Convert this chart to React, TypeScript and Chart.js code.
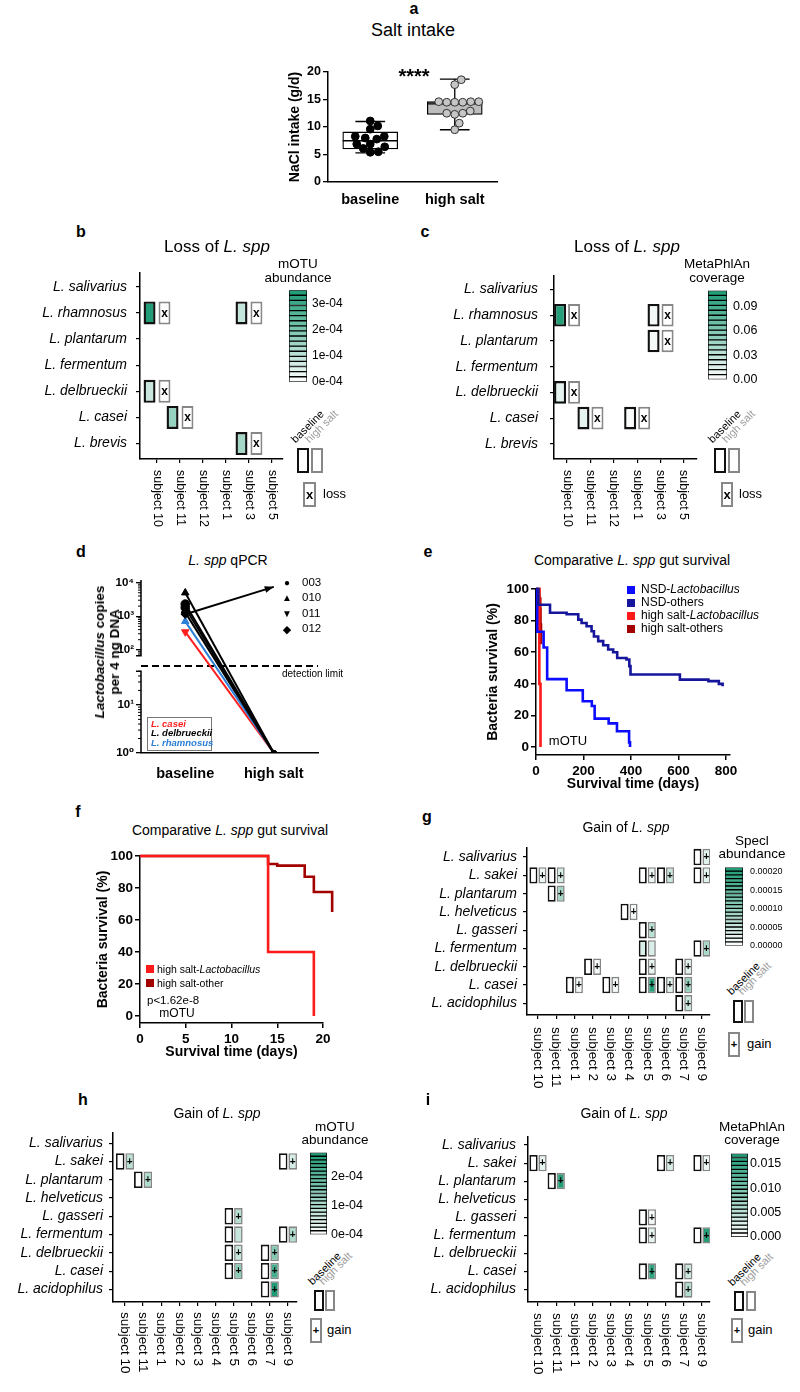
import React, { useEffect, useRef } from "react";
import { Chart, registerables } from "chart.js";

Chart.register(...registerables);

const FONT = '"Liberation Sans", Arial, Helvetica, "DejaVu Sans", sans-serif';
Chart.defaults.font.family = FONT;
Chart.defaults.color = "#000";

/* ====================== DATA ====================== */
// a — salt intake
const SALT_GROUPS = ["baseline", "high salt"];
const SALT_BASELINE = [11.1, 10.2, 9.6, 8.3, 8.3, 8.0, 7.8, 6.9, 6.9, 6.4, 6.1, 5.5, 5.4];
const SALT_HIGH = [18.6, 17.7, 14.6, 14.6, 14.5, 14.5, 14.5, 14.6, 12.9, 12.5, 12.5, 12.3, 10.7, 9.5];
const SALT_WHISKER_LOW = [5.3, 9.5];
const SALT_Q1 = [6.0, 12.3];
const SALT_MEDIAN = [7.5, 14.2];
const SALT_Q3 = [9.1, 14.6];
const SALT_WHISKER_HIGH = [11.0, 18.7];
const SALT_TICKS = [0, 5, 10, 15, 20];

// b, c — loss of L. spp   [species, subject, baseline, high salt, marked]
type Cell = [string, string, number, number, number];
const LOSS_SPECIES = ["L. salivarius", "L. rhamnosus", "L. plantarum", "L. fermentum", "L. delbrueckii", "L. casei", "L. brevis"];
const LOSS_SUBJECTS = ["subject 10", "subject 11", "subject 12", "subject 1", "subject 3", "subject 5"];
const B_CELLS: Cell[] = [
  ["L. rhamnosus", "subject 10", 3.4e-4, 0, 1],
  ["L. rhamnosus", "subject 3", 0.9e-4, 0, 1],
  ["L. delbrueckii", "subject 10", 0.85e-4, 0, 1],
  ["L. casei", "subject 11", 1.6e-4, 0, 1],
  ["L. brevis", "subject 3", 1.4e-4, 0, 1],
];
const B_SCALE_MAX = 3.5e-4;
const B_SCALE_TICKS = [0, 1e-4, 2e-4, 3e-4];
const B_SCALE_LABELS = ["0e-04", "1e-04", "2e-04", "3e-04"];
const C_CELLS: Cell[] = [
  ["L. rhamnosus", "subject 10", 0.105, 0, 1],
  ["L. rhamnosus", "subject 3", 0.006, 0, 1],
  ["L. plantarum", "subject 3", 0.005, 0, 1],
  ["L. delbrueckii", "subject 10", 0.013, 0, 1],
  ["L. casei", "subject 11", 0.012, 0, 1],
  ["L. casei", "subject 1", 0.003, 0, 1],
];
const C_SCALE_MAX = 0.11;
const C_SCALE_TICKS = [0, 0.03, 0.06, 0.09];
const C_SCALE_LABELS = ["0.00", "0.03", "0.06", "0.09"];

// g, h, i — gain of L. spp
const GAIN_SPECIES = ["L. salivarius", "L. sakei", "L. plantarum", "L. helveticus", "L. gasseri", "L. fermentum", "L. delbrueckii", "L. casei", "L. acidophilus"];
const GAIN_SUBJECTS = ["subject 10", "subject 11", "subject 1", "subject 2", "subject 3", "subject 4", "subject 5", "subject 6", "subject 7", "subject 9"];
const G_CELLS: Cell[] = [
  ["L. salivarius", "subject 9", 0, 0.000028, 1],
  ["L. sakei", "subject 10", 0, 0.000018, 1],
  ["L. sakei", "subject 11", 0, 0.000037, 1],
  ["L. sakei", "subject 5", 0, 0.000018, 1],
  ["L. sakei", "subject 6", 0, 0.00005, 1],
  ["L. sakei", "subject 9", 0, 0.000028, 1],
  ["L. plantarum", "subject 11", 0, 0.000085, 1],
  ["L. helveticus", "subject 4", 0, 0.000008, 1],
  ["L. gasseri", "subject 5", 0, 0.000064, 1],
  ["L. fermentum", "subject 5", 0.000035, 0.000035, 0],
  ["L. fermentum", "subject 9", 0, 0.00008, 1],
  ["L. delbrueckii", "subject 2", 0, 0.000012, 1],
  ["L. delbrueckii", "subject 5", 0, 0.00002, 1],
  ["L. delbrueckii", "subject 7", 0, 0.000028, 1],
  ["L. casei", "subject 1", 0, 0.000012, 1],
  ["L. casei", "subject 3", 0, 0.000012, 1],
  ["L. casei", "subject 5", 0, 0.0002, 1],
  ["L. casei", "subject 6", 0, 0.000028, 1],
  ["L. casei", "subject 7", 0, 0.0001, 1],
  ["L. acidophilus", "subject 7", 0, 0.00005, 1],
];
const G_SCALE_MAX = 0.000212;
const G_SCALE_TICKS = [0, 0.00005, 0.0001, 0.00015, 0.0002];
const G_SCALE_LABELS = ["0.00000", "0.00005", "0.00010", "0.00015", "0.00020"];
const H_CELLS: Cell[] = [
  ["L. sakei", "subject 10", 0, 0.85e-4, 1],
  ["L. sakei", "subject 9", 0, 0.5e-4, 1],
  ["L. plantarum", "subject 11", 0, 1.0e-4, 1],
  ["L. gasseri", "subject 5", 0, 0.9e-4, 1],
  ["L. fermentum", "subject 5", 0, 0.7e-4, 0],
  ["L. fermentum", "subject 9", 0, 1.0e-4, 1],
  ["L. delbrueckii", "subject 5", 0, 0.7e-4, 1],
  ["L. delbrueckii", "subject 7", 0, 1.55e-4, 1],
  ["L. casei", "subject 5", 0, 1.45e-4, 1],
  ["L. casei", "subject 7", 0, 2.3e-4, 1],
  ["L. acidophilus", "subject 7", 0, 2.8e-4, 1],
];
const H_SCALE_MAX = 2.85e-4;
const H_SCALE_TICKS = [0, 1e-4, 2e-4];
const H_SCALE_LABELS = ["0e-04", "1e-04", "2e-04"];
const I_CELLS: Cell[] = [
  ["L. sakei", "subject 10", 0, 0.0019, 1],
  ["L. sakei", "subject 6", 0, 0.003, 1],
  ["L. sakei", "subject 9", 0, 0.0015, 1],
  ["L. plantarum", "subject 11", 0, 0.0165, 1],
  ["L. gasseri", "subject 5", 0, 0.001, 1],
  ["L. fermentum", "subject 5", 0, 0.0019, 1],
  ["L. fermentum", "subject 9", 0, 0.0165, 1],
  ["L. casei", "subject 5", 0, 0.0155, 1],
  ["L. casei", "subject 7", 0, 0.004, 1],
  ["L. acidophilus", "subject 7", 0, 0.006, 1],
];
const I_SCALE_MAX = 0.0171;
const I_SCALE_TICKS = [0, 0.005, 0.01, 0.015];
const I_SCALE_LABELS = ["0.000", "0.005", "0.010", "0.015"];

// d — qPCR
const QPCR_GROUPS = ["baseline", "high salt"];
const QPCR_SUBJECTS = ["003", "010", "011", "012"];
const QPCR_MARKERS = ["circle", "triangle", "triangle", "rectRot"];
const QPCR_MARKER_ROT = [0, 0, 180, 0];
const QPCR_MARKER_GLYPHS = ["●", "▲", "▼", "◆"];
const QPCR_SPECIES = ["L. casei", "L. delbrueckii", "L. rhamnosus"];
const QPCR_SPECIES_COLORS = ["#ff1f1f", "#000000", "#2b7fd6"];
const QPCR_SERIES_SUBJECT = ["010", "003", "003", "012", "010", "011", "012"];
const QPCR_SERIES_SPECIES = ["L. delbrueckii", "L. delbrueckii", "L. delbrueckii", "L. delbrueckii", "L. rhamnosus", "L. casei", "L. delbrueckii"];
const QPCR_BASELINE = [5000, 2300, 1800, 1300, 700, 340, 1150];
const QPCR_HIGH_SALT = [1, 1, 1, 1, 1, 1, 7500];
const QPCR_DETECTION_LIMIT = 55;
const QPCR_TICKS = [1, 10, 100, 1000, 10000];
const QPCR_TICK_LABELS = ["10⁰", "10¹", "10²", "10³", "10⁴"];
const QPCR_AXIS_TOP = 12000;
const QPCR_BREAK_LOW = 50;
const QPCR_BREAK_HIGH = 66;

// e, f — survival
const NSD_OTHERS_DAYS = [0, 10, 59, 129, 178, 192, 213, 234, 244, 262, 283, 304, 325, 342, 381, 393, 398, 606, 726, 770, 786];
const NSD_OTHERS_SURV = [100, 90, 85, 84, 80.6, 78.5, 76.4, 73.3, 70, 67, 64.4, 61.7, 60, 56.4, 55.4, 51.2, 45.9, 42.7, 41.7, 40, 38.5];
const NSD_LACTO_DAYS = [0, 5, 32, 47, 129, 197, 235, 247, 306, 341, 392, 396];
const NSD_LACTO_SURV = [100, 73, 63, 43, 36, 29, 26, 18, 15, 10, 3, 0];
const HS_LACTO_DAYS = [0, 14, 19];
const HS_LACTO_SURV = [100, 40, 0];
const HS_OTHERS_DAYS = [0, 14, 15, 18, 19, 21];
const HS_OTHERS_SURV = [100, 95, 94, 87, 77.5, 65];
const SURV_TICKS = [0, 20, 40, 60, 80, 100];
const E_DAY_TICKS = [0, 200, 400, 600, 800];
const F_DAY_TICKS = [0, 5, 10, 15, 20];

const NAVY = "#16169c";
const BLUE = "#0c0cff";
const RED = "#ff1a1a";
const DARKRED = "#a30000";

/* ====================== LAYOUT ====================== */
type Rect = { x: number; y: number; w: number; h: number };
type Area = { l: number; t: number; r: number; b: number };

const A_CANVAS: Rect = { x: 270, y: 60, w: 240, h: 150 };
const A_AREA: Area = { l: 328, t: 72, r: 497, b: 182 };
const D_CANVAS: Rect = { x: 105, y: 570, w: 225, h: 220 };
const D_AREA: Area = { l: 141, t: 580, r: 318, b: 753 };
const E_CANVAS: Rect = { x: 470, y: 575, w: 280, h: 218 };
const E_AREA: Area = { l: 536, t: 589, r: 730, b: 755 };
const F_CANVAS: Rect = { x: 75, y: 845, w: 265, h: 216 };
const F_AREA: Area = { l: 140, t: 856, r: 323, b: 1023 };

const HEAT_B = { canvas: { x: 40, y: 255, w: 250, h: 280 }, area: { l: 140, t: 265, r: 283, b: 459 }, xr: [-0.74, 5.48], yr: [-0.55, 6.59], catPct: 1.3, barPct: 0.8, half: 0.44, rowPad: 9, subjFont: 12.5, subjGap: 11, mark: "x", markFont: "bold 12px", bw: [2.4, 2] };
const HEAT_C = { canvas: { x: 440, y: 255, w: 265, h: 280 }, area: { l: 554, t: 265, r: 697, b: 459 }, xr: [-0.56, 5.56], yr: [-0.55, 6.59], catPct: 1.2, barPct: 0.86, half: 0.44, rowPad: 12, subjFont: 12.5, subjGap: 11, mark: "x", markFont: "bold 12px", bw: [2.4, 2] };
const HEAT_G = { canvas: { x: 400, y: 833, w: 320, h: 262 }, area: { l: 527, t: 843, r: 710, b: 1015 }, xr: [-0.6, 9.44], yr: [-0.53, 8.64], catPct: 0.99, barPct: 0.89, half: 0.45, rowPad: 6, subjFont: 13.5, subjGap: 12, mark: "+", markFont: "bold 10px", bw: [1.8, 1.6] };
const HEAT_H = { canvas: { x: 0, y: 1118, w: 305, h: 267 }, area: { l: 113, t: 1128, r: 297, b: 1302 }, xr: [-0.66, 9.5], yr: [-0.59, 8.69], catPct: 1.05, barPct: 0.9, half: 0.45, rowPad: 6, subjFont: 13.5, subjGap: 10, mark: "+", markFont: "bold 10px", bw: [1.8, 1.6] };
const HEAT_I = { canvas: { x: 400, y: 1120, w: 320, h: 265 }, area: { l: 528, t: 1130, r: 710, b: 1302 }, xr: [-0.55, 9.44], yr: [-0.48, 8.69], catPct: 0.99, barPct: 0.92, half: 0.45, rowPad: 8, subjFont: 13.5, subjGap: 11, mark: "+", markFont: "bold 10px", bw: [1.8, 1.6] };

const CB_B = { canvas: { x: 284, y: 278, w: 66, h: 116 }, area: { l: 289, t: 286, r: 307, b: 384 }, bands: 18, font: 12, pad: 5 };
const CB_C = { canvas: { x: 703, y: 277, w: 72, h: 116 }, area: { l: 708, t: 285, r: 727, b: 383 }, bands: 18, font: 12.5, pad: 6 };
const CB_G = { canvas: { x: 720, y: 855, w: 80, h: 103 }, area: { l: 725, t: 863, r: 743, b: 948 }, bands: 21, font: 9, pad: 7 };
const CB_H = { canvas: { x: 305, y: 1141, w: 75, h: 105 }, area: { l: 310, t: 1149, r: 327, b: 1236 }, bands: 22, font: 12.5, pad: 4 };
const CB_I = { canvas: { x: 726, y: 1144, w: 74, h: 103 }, area: { l: 731, t: 1152, r: 748, b: 1237 }, bands: 21, font: 12.5, pad: 2 };

/* ====================== HELPERS ====================== */
const TEAL = [27, 154, 116];
function teal(f: number) {
  const v = Math.max(0, Math.min(1, f));
  const c = TEAL.map((t) => Math.round(255 + (t - 255) * v));
  return `rgb(${c[0]},${c[1]},${c[2]})`;
}

function frame(c: Rect, a: Area, titleX?: number, titleLH = 16.8) {
  const padLeft = titleX === undefined ? 0 : titleX - c.x - titleLH / 2;
  return {
    padding: { left: padLeft, top: a.t - c.y, right: c.x + c.w - a.r, bottom: 0 },
    yWidth: a.l - c.x - padLeft,
    xHeight: c.y + c.h - a.b,
  };
}

const tickGrid = (len: number, w = 1.3) => ({ display: true, drawOnChartArea: false, drawTicks: true, tickLength: len, color: "#000", lineWidth: w, offset: false });
const noGrid = { display: false, drawTicks: false, offset: false };
const axisBorder = (w = 1.5) => ({ display: true, color: "#000", width: w });

function baseOptions(padding: any) {
  return {
    responsive: false,
    maintainAspectRatio: false,
    animation: false,
    events: [],
    devicePixelRatio: 1,
    layout: { padding },
    plugins: { legend: { display: false }, tooltip: { enabled: false }, title: { display: false } },
  };
}

function swarm(values: number[], center: number, r: number, xPx: number, yPx: number) {
  const placed: { x: number; y: number }[] = [];
  const order = values.map((_, i) => i).sort((a, b) => values[a] - values[b]);
  const out: number[] = new Array(values.length).fill(center);
  for (const i of order) {
    const yp = values[i] * yPx;
    let off = 0;
    for (let n = 0; n < 200; n++) {
      const cand = n === 0 ? 0 : Math.ceil(n / 2) * (n % 2 ? 1 : -1) * 0.5;
      if (placed.every((p) => Math.hypot(p.x - cand, p.y - yp) >= 2 * r)) {
        off = cand;
        break;
      }
    }
    placed.push({ x: off, y: yp });
    out[i] = center + off / xPx;
  }
  return out;
}

function qpcrAxis(v: number) {
  const L = Math.log10(v);
  const lo = Math.log10(QPCR_BREAK_LOW);
  const hi = Math.log10(QPCR_BREAK_HIGH);
  const seg1 = (l: number) => l * 48;
  const seg2 = (l: number) => 103 + (l - 2) * 33.5;
  if (L <= lo) return seg1(L);
  if (L >= hi) return seg2(L);
  return seg1(lo) + ((L - lo) / (hi - lo)) * (seg2(hi) - seg1(lo));
}

/* ====================== CONFIGS ====================== */
function saltConfig() {
  const fr = frame(A_CANVAS, A_AREA, 295);
  const xPx = (A_AREA.r - A_AREA.l) / 2;
  const yPx = (A_AREA.b - A_AREA.t) / 20;
  const bx = swarm(SALT_BASELINE, 0, 3.9, xPx, yPx);
  const hx = swarm(SALT_HIGH, 1, 3.9, xPx, yPx);
  const boxPlugin = {
    id: "boxWhiskers",
    beforeDatasetsDraw(chart: any) {
      const { ctx, scales } = chart;
      const meta = chart.getDatasetMeta(0);
      ctx.save();
      ctx.strokeStyle = "#000";
      ctx.lineWidth = 1.3;
      SALT_GROUPS.forEach((_, i) => {
        const px = scales.x.getPixelForValue(i);
        const cap = meta.data[i].width * 0.27;
        const lo = scales.y.getPixelForValue(SALT_WHISKER_LOW[i]);
        const hi = scales.y.getPixelForValue(SALT_WHISKER_HIGH[i]);
        ctx.beginPath();
        ctx.moveTo(px, lo);
        ctx.lineTo(px, hi);
        ctx.moveTo(px - cap, lo);
        ctx.lineTo(px + cap, lo);
        ctx.moveTo(px - cap, hi);
        ctx.lineTo(px + cap, hi);
        ctx.stroke();
      });
      ctx.restore();
    },
    afterDatasetDraw(chart: any, args: any) {
      if (args.index !== 0) return;
      const { ctx, scales } = chart;
      const meta = chart.getDatasetMeta(0);
      ctx.save();
      ctx.strokeStyle = "#000";
      ctx.lineWidth = 1.3;
      SALT_GROUPS.forEach((_, i) => {
        const el = meta.data[i];
        const py = scales.y.getPixelForValue(SALT_MEDIAN[i]);
        ctx.beginPath();
        ctx.moveTo(el.x - el.width / 2, py);
        ctx.lineTo(el.x + el.width / 2, py);
        ctx.stroke();
      });
      ctx.restore();
    },
  };
  return {
    type: "bar",
    data: {
      datasets: [
        {
          type: "bar",
          data: SALT_GROUPS.map((_, i) => ({ x: i, y: [SALT_Q1[i], SALT_Q3[i]] })),
          backgroundColor: ["#ffffff", "#bdbdbd"],
          borderColor: "#000",
          borderWidth: 1.3,
          borderSkipped: false,
          barThickness: 55,
          order: 3,
        },
        {
          type: "scatter",
          data: SALT_BASELINE.map((v, i) => ({ x: bx[i], y: v })),
          pointRadius: 3.9,
          pointBackgroundColor: "#000",
          pointBorderColor: "#000",
          pointBorderWidth: 1,
          order: 1,
        },
        {
          type: "scatter",
          data: SALT_HIGH.map((v, i) => ({ x: hx[i], y: v })),
          pointRadius: 3.9,
          pointBackgroundColor: "#c6c6c6",
          pointBorderColor: "#333",
          pointBorderWidth: 1,
          order: 1,
        },
      ],
    },
    options: {
      ...baseOptions(fr.padding),
      scales: {
        x: {
          type: "linear", min: -0.5, max: 1.5, offset: false,
          afterBuildTicks: (s: any) => { s.ticks = SALT_GROUPS.map((_, i) => ({ value: i })); },
          ticks: { callback: (_v: any, i: number) => SALT_GROUPS[i], font: { size: 14.5, weight: "bold" }, padding: 9, maxRotation: 0, minRotation: 0, autoSkip: false },
          grid: noGrid, border: axisBorder(1.5),
          afterFit: (s: any) => { s.height = fr.xHeight; },
        },
        y: {
          type: "linear", min: 0, max: 20, stacked: false,
          afterBuildTicks: (s: any) => { s.ticks = SALT_TICKS.map((v) => ({ value: v })); },
          ticks: { font: { size: 12.5, weight: "bold" }, padding: 2, autoSkip: false },
          grid: tickGrid(5), border: axisBorder(1.5),
          title: { display: true, text: "NaCl intake (g/d)", font: { size: 14, weight: "bold" }, padding: 0 },
          afterFit: (s: any) => { s.width = fr.yWidth; },
        },
      },
    },
    plugins: [boxPlugin],
  };
}

function heatmapConfig(L: any, species: string[], subjects: string[], cells: Cell[], max: number) {
  const fr = frame(L.canvas, L.area);
  const pos = (c: Cell) => {
    const r = species.indexOf(c[0]);
    return { x: subjects.indexOf(c[1]), y: [r - L.half, r + L.half] };
  };
  const plugin = {
    id: "heatExtras",
    afterDatasetsDraw(chart: any) {
      const { ctx, chartArea, scales } = chart;
      const meta = chart.getDatasetMeta(1);
      ctx.save();
      ctx.fillStyle = "#000";
      ctx.font = `${L.markFont} ${FONT}`;
      ctx.textAlign = "center";
      ctx.textBaseline = "middle";
      meta.data.forEach((el: any, i: number) => {
        if (!cells[i][4]) return;
        ctx.fillText(L.mark, el.x, (el.y + el.base) / 2 + 0.5);
      });
      ctx.font = `${L.subjFont}px ${FONT}`;
      ctx.textAlign = "left";
      subjects.forEach((s, i) => {
        const px = scales.x.getPixelForValue(i);
        ctx.save();
        ctx.translate(px, chartArea.bottom + L.subjGap);
        ctx.rotate(Math.PI / 2);
        ctx.fillText(s, 0, 0);
        ctx.restore();
      });
      ctx.restore();
    },
  };
  return {
    type: "bar",
    data: {
      datasets: [
        {
          label: "baseline", stack: "baseline",
          data: cells.map(pos),
          backgroundColor: cells.map((c) => teal(c[2] / max)),
          borderColor: "#111", borderWidth: L.bw[0], borderSkipped: false,
          categoryPercentage: L.catPct, barPercentage: L.barPct,
        },
        {
          label: "high salt", stack: "high salt",
          data: cells.map(pos),
          backgroundColor: cells.map((c) => teal(c[3] / max)),
          borderColor: "#878787", borderWidth: L.bw[1], borderSkipped: false,
          categoryPercentage: L.catPct, barPercentage: L.barPct,
        },
      ],
    },
    options: {
      ...baseOptions(fr.padding),
      scales: {
        x: {
          type: "linear", min: L.xr[0], max: L.xr[1], offset: false,
          afterBuildTicks: (s: any) => { s.ticks = subjects.map((_, i) => ({ value: i })); },
          ticks: { display: false },
          grid: tickGrid(4, 1.2), border: axisBorder(1.5),
          afterFit: (s: any) => { s.height = fr.xHeight; },
        },
        y: {
          type: "linear", reverse: true, min: L.yr[0], max: L.yr[1], stacked: false,
          afterBuildTicks: (s: any) => { s.ticks = species.map((_, i) => ({ value: i })); },
          ticks: { callback: (v: number) => species[Math.round(v)] ?? "", font: { size: 14, style: "italic" }, padding: L.rowPad, autoSkip: false },
          grid: tickGrid(4, 1.2), border: axisBorder(1.5),
          afterFit: (s: any) => { s.width = fr.yWidth; },
        },
      },
    },
    plugins: [plugin],
  };
}

function colorbarConfig(L: any, max: number, ticks: number[], labels: string[]) {
  const n = L.bands;
  const bands = Array.from({ length: n }, (_, k) => ({ x: 0, y: [(k * max) / n, ((k + 1) * max) / n] }));
  const colors = Array.from({ length: n }, (_, k) => teal((k + 0.5) / n));
  return {
    type: "bar",
    data: {
      datasets: [
        { data: bands, backgroundColor: colors, borderColor: "#000", borderWidth: 1, borderSkipped: false, barThickness: L.area.r - L.area.l },
      ],
    },
    options: {
      ...baseOptions({ left: L.area.l - L.canvas.x, top: L.area.t - L.canvas.y, right: 0, bottom: L.canvas.y + L.canvas.h - L.area.b }),
      scales: {
        x: { type: "linear", min: -0.5, max: 0.5, display: false, offset: false, grid: noGrid },
        y: {
          type: "linear", position: "right", min: 0, max, stacked: false,
          afterBuildTicks: (s: any) => { s.ticks = ticks.map((v) => ({ value: v })); },
          ticks: { callback: (_v: any, i: number) => labels[i], font: { size: L.font }, padding: L.pad, autoSkip: false },
          grid: noGrid, border: { display: false },
          afterFit: (s: any) => { s.width = L.canvas.x + L.canvas.w - L.area.r; },
        },
      },
    },
  };
}

function qpcrConfig() {
  const fr = frame(D_CANVAS, D_AREA);
  const datasets = QPCR_BASELINE.map((b, i) => {
    const h = QPCR_HIGH_SALT[i];
    const gain = h > b;
    const si = QPCR_SUBJECTS.indexOf(QPCR_SERIES_SUBJECT[i]);
    const col = QPCR_SPECIES_COLORS[QPCR_SPECIES.indexOf(QPCR_SERIES_SPECIES[i])];
    return {
      type: "line",
      data: [qpcrAxis(b), qpcrAxis(h)],
      borderColor: col,
      backgroundColor: col,
      borderWidth: 2,
      pointStyle: [QPCR_MARKERS[si], "circle"],
      pointRotation: [QPCR_MARKER_ROT[si], 0],
      pointRadius: [4.3, gain ? 0 : 2.6],
      pointBackgroundColor: [col, "#000"],
      pointBorderColor: [col, "#000"],
      pointBorderWidth: 1,
      order: col === "#000000" ? 0 : 1,
    };
  });
  const plugin = {
    id: "qpcrExtras",
    beforeDatasetsDraw(chart: any) {
      const { ctx, chartArea: a, scales } = chart;
      const y = scales.y;
      ctx.save();
      // detection limit
      const dy = y.getPixelForValue(qpcrAxis(QPCR_DETECTION_LIMIT));
      ctx.strokeStyle = "#000";
      ctx.lineWidth = 2;
      ctx.setLineDash([7, 4]);
      ctx.beginPath();
      ctx.moveTo(a.left, dy);
      ctx.lineTo(a.right, dy);
      ctx.stroke();
      ctx.setLineDash([]);
      // broken y axis
      ctx.lineWidth = 1.5;
      const top = y.getPixelForValue(qpcrAxis(QPCR_AXIS_TOP));
      const bh = y.getPixelForValue(qpcrAxis(QPCR_BREAK_HIGH));
      const bl = y.getPixelForValue(qpcrAxis(QPCR_BREAK_LOW));
      ctx.beginPath();
      ctx.moveTo(a.left, top);
      ctx.lineTo(a.left, bh);
      ctx.lineTo(a.left - 5, bh);
      ctx.moveTo(a.left - 5, bl);
      ctx.lineTo(a.left, bl);
      ctx.lineTo(a.left, a.bottom);
      ctx.stroke();
      // minor ticks
      ctx.lineWidth = 1;
      for (let k = 0; k < 4; k++) {
        for (let m = 2; m <= 9; m++) {
          const v = m * Math.pow(10, k);
          if ((v > QPCR_BREAK_LOW && v < QPCR_BREAK_HIGH) || v > QPCR_AXIS_TOP) continue;
          const py = y.getPixelForValue(qpcrAxis(v));
          ctx.beginPath();
          ctx.moveTo(a.left - 3, py);
          ctx.lineTo(a.left, py);
          ctx.stroke();
        }
      }
      ctx.restore();
    },
    afterDatasetsDraw(chart: any) {
      const { ctx } = chart;
      ctx.save();
      QPCR_BASELINE.forEach((b, i) => {
        if (!(QPCR_HIGH_SALT[i] > b)) return;
        const meta = chart.getDatasetMeta(i);
        const p0 = meta.data[0];
        const p1 = meta.data[1];
        const ang = Math.atan2(p1.y - p0.y, p1.x - p0.x);
        const col = meta.dataset.options.borderColor;
        ctx.fillStyle = col;
        ctx.beginPath();
        ctx.moveTo(p1.x, p1.y);
        ctx.lineTo(p1.x - 9 * Math.cos(ang) + 3.5 * Math.sin(ang), p1.y - 9 * Math.sin(ang) - 3.5 * Math.cos(ang));
        ctx.lineTo(p1.x - 9 * Math.cos(ang) - 3.5 * Math.sin(ang), p1.y - 9 * Math.sin(ang) + 3.5 * Math.cos(ang));
        ctx.closePath();
        ctx.fill();
      });
      ctx.restore();
    },
  };
  return {
    type: "line",
    data: { labels: QPCR_GROUPS, datasets },
    options: {
      ...baseOptions(fr.padding),
      scales: {
        x: {
          type: "category", offset: true,
          ticks: { font: { size: 14.5, weight: "bold" }, padding: 12, maxRotation: 0, minRotation: 0 },
          grid: noGrid, border: axisBorder(1.5),
          afterFit: (s: any) => { s.height = fr.xHeight; },
        },
        y: {
          type: "linear", min: 0, max: qpcrAxis(QPCR_AXIS_TOP),
          afterBuildTicks: (s: any) => { s.ticks = QPCR_TICKS.map((v) => ({ value: qpcrAxis(v) })); },
          ticks: { callback: (_v: any, i: number) => QPCR_TICK_LABELS[i], font: { size: 11.5, weight: "bold" }, padding: 2, autoSkip: false },
          grid: tickGrid(5, 1.3), border: { display: false },
          afterFit: (s: any) => { s.width = fr.yWidth; },
        },
      },
    },
    plugins: [plugin],
  };
}

function survivalConfig(canvas: Rect, area: Area, titleX: number, series: any[], xMax: number, xTicks: number[], yMin: number) {
  const fr = frame(canvas, area, titleX);
  return {
    type: "line",
    data: {
      datasets: series.map((s) => ({
        label: s.label,
        data: s.days.map((d: number, i: number) => ({ x: d, y: s.surv[i] })),
        borderColor: s.color,
        backgroundColor: s.color,
        borderWidth: 2.6,
        pointRadius: 0,
        stepped: true,
        fill: false,
        clip: false,
      })),
    },
    options: {
      ...baseOptions(fr.padding),
      scales: {
        x: {
          type: "linear", min: 0, max: xMax,
          afterBuildTicks: (s: any) => { s.ticks = xTicks.map((v) => ({ value: v })); },
          ticks: { font: { size: 13.5, weight: "bold" }, padding: 3, maxRotation: 0, minRotation: 0, autoSkip: false },
          grid: tickGrid(5, 1.5), border: axisBorder(1.5),
          title: { display: true, text: "Survival time (days)", font: { size: 14, weight: "bold" }, padding: 0 },
          afterFit: (s: any) => { s.height = fr.xHeight; },
        },
        y: {
          type: "linear", min: yMin, max: 100,
          afterBuildTicks: (s: any) => { s.ticks = SURV_TICKS.map((v) => ({ value: v })); },
          ticks: { font: { size: 13.5, weight: "bold" }, padding: 2, autoSkip: false },
          grid: tickGrid(5, 1.5), border: axisBorder(1.5),
          title: { display: true, text: "Bacteria survival (%)", font: { size: 14, weight: "bold" }, padding: 0 },
          afterFit: (s: any) => { s.width = fr.yWidth; },
        },
      },
    },
  };
}

const E_SERIES = [
  { label: "NSD-others", days: NSD_OTHERS_DAYS, surv: NSD_OTHERS_SURV, color: NAVY },
  { label: "NSD-Lactobacillus", days: NSD_LACTO_DAYS, surv: NSD_LACTO_SURV, color: BLUE },
  { label: "high salt-Lactobacillus", days: HS_LACTO_DAYS, surv: HS_LACTO_SURV, color: RED },
  { label: "high salt-others", days: HS_OTHERS_DAYS, surv: HS_OTHERS_SURV, color: DARKRED },
];
const F_SERIES = [
  { label: "high salt-Lactobacillus", days: HS_LACTO_DAYS, surv: HS_LACTO_SURV, color: RED },
  { label: "high salt-other", days: HS_OTHERS_DAYS, surv: HS_OTHERS_SURV, color: DARKRED },
];

/* ====================== COMPONENTS ====================== */
function ChartBox({ box, make }: { box: Rect; make: () => any }) {
  const ref = useRef<HTMLCanvasElement>(null);
  useEffect(() => {
    const chart = new Chart(ref.current as HTMLCanvasElement, make());
    return () => chart.destroy();
  }, []);
  return (
    <canvas
      ref={ref}
      width={box.w}
      height={box.h}
      style={{ position: "absolute", left: box.x, top: box.y, width: box.w, height: box.h }}
    />
  );
}

function Txt(p: { x: number; y: number; s: number; b?: boolean; it?: boolean; c?: string; a?: string; r?: number; lh?: number; children: any }) {
  const tx = p.a === "l" ? "0" : p.a === "r" ? "-100%" : "-50%";
  return (
    <div
      style={{
        position: "absolute", left: p.x, top: p.y, fontSize: p.s,
        fontWeight: p.b ? 700 : 400, fontStyle: p.it ? "italic" : "normal",
        color: p.c || "#000", whiteSpace: "nowrap",
        lineHeight: p.lh ? `${p.lh}px` : 1.15, textAlign: "center",
        transform: `translate(${tx},-50%)${p.r ? ` rotate(${p.r}deg)` : ""}`,
      }}
    >
      {p.children}
    </div>
  );
}

function Slant({ x, y, s, c, children }: any) {
  return (
    <div style={{ position: "absolute", left: x, top: y - s, fontSize: s, lineHeight: 1, color: c, whiteSpace: "nowrap", transformOrigin: "0% 100%", transform: "rotate(-45deg)" }}>
      {children}
    </div>
  );
}

function Frame({ x, y, w, h, bw, c, bg, children, fs }: any) {
  return (
    <div style={{ position: "absolute", left: x, top: y, width: w, height: h, boxSizing: "border-box", border: bw ? `${bw}px solid ${c}` : "none", background: bg || "transparent", display: "flex", alignItems: "center", justifyContent: "center", fontSize: fs || 12, fontWeight: 700, lineHeight: 1 }}>
      {children}
    </div>
  );
}

function KeyGlyph({ bx, by, bwid, bh, gap, mx, my, mw, mh, mark, mfs, label, lx, ly }: any) {
  return (
    <>
      <Slant x={bx} y={by - 3} s={11} c="#000">baseline</Slant>
      <Slant x={bx + bwid + gap} y={by - 3} s={11} c="#9a9a9a">high salt</Slant>
      <Frame x={bx} y={by} w={bwid} h={bh} bw={2.4} c="#111" />
      <Frame x={bx + bwid + gap} y={by} w={bwid} h={bh} bw={2} c="#878787" />
      <Frame x={mx} y={my} w={mw} h={mh} bw={2} c="#878787" fs={mfs}>{mark}</Frame>
      <Txt x={lx} y={ly} s={13} a="l">{label}</Txt>
    </>
  );
}

export default function App() {
  return (
    <div style={{ position: "absolute", left: 0, top: 0, width: 800, height: 1392, background: "#fff", fontFamily: FONT, color: "#000", overflow: "hidden" }}>
      <ChartBox box={A_CANVAS} make={saltConfig} />
      <ChartBox box={HEAT_B.canvas} make={() => heatmapConfig(HEAT_B, LOSS_SPECIES, LOSS_SUBJECTS, B_CELLS, B_SCALE_MAX)} />
      <ChartBox box={CB_B.canvas} make={() => colorbarConfig(CB_B, B_SCALE_MAX, B_SCALE_TICKS, B_SCALE_LABELS)} />
      <ChartBox box={HEAT_C.canvas} make={() => heatmapConfig(HEAT_C, LOSS_SPECIES, LOSS_SUBJECTS, C_CELLS, C_SCALE_MAX)} />
      <ChartBox box={CB_C.canvas} make={() => colorbarConfig(CB_C, C_SCALE_MAX, C_SCALE_TICKS, C_SCALE_LABELS)} />
      <ChartBox box={D_CANVAS} make={qpcrConfig} />
      <ChartBox box={E_CANVAS} make={() => survivalConfig(E_CANVAS, E_AREA, 493, E_SERIES, 817, E_DAY_TICKS, -5)} />
      <ChartBox box={F_CANVAS} make={() => survivalConfig(F_CANVAS, F_AREA, 103, F_SERIES, 20, F_DAY_TICKS, -4.4)} />
      <ChartBox box={HEAT_G.canvas} make={() => heatmapConfig(HEAT_G, GAIN_SPECIES, GAIN_SUBJECTS, G_CELLS, G_SCALE_MAX)} />
      <ChartBox box={CB_G.canvas} make={() => colorbarConfig(CB_G, G_SCALE_MAX, G_SCALE_TICKS, G_SCALE_LABELS)} />
      <ChartBox box={HEAT_H.canvas} make={() => heatmapConfig(HEAT_H, GAIN_SPECIES, GAIN_SUBJECTS, H_CELLS, H_SCALE_MAX)} />
      <ChartBox box={CB_H.canvas} make={() => colorbarConfig(CB_H, H_SCALE_MAX, H_SCALE_TICKS, H_SCALE_LABELS)} />
      <ChartBox box={HEAT_I.canvas} make={() => heatmapConfig(HEAT_I, GAIN_SPECIES, GAIN_SUBJECTS, I_CELLS, I_SCALE_MAX)} />
      <ChartBox box={CB_I.canvas} make={() => colorbarConfig(CB_I, I_SCALE_MAX, I_SCALE_TICKS, I_SCALE_LABELS)} />

      {/* panel letters */}
      <Txt x={414} y={9} s={16} b>a</Txt>
      <Txt x={81} y={232} s={16} b>b</Txt>
      <Txt x={425} y={232} s={16} b>c</Txt>
      <Txt x={81} y={552} s={16} b>d</Txt>
      <Txt x={428} y={552} s={16} b>e</Txt>
      <Txt x={78} y={812} s={16} b>f</Txt>
      <Txt x={427} y={817} s={16} b>g</Txt>
      <Txt x={83} y={1100} s={16} b>h</Txt>
      <Txt x={428} y={1100} s={16} b>i</Txt>

      {/* titles */}
      <Txt x={413} y={30} s={18}>Salt intake</Txt>
      <Txt x={414} y={76} s={20} b>****</Txt>
      <Txt x={217} y={247} s={17}>Loss of <i>L. spp</i></Txt>
      <Txt x={627} y={247} s={17}>Loss of <i>L. spp</i></Txt>
      <Txt x={228} y={560} s={14}><i>L. spp</i> qPCR</Txt>
      <Txt x={632} y={560} s={14}>Comparative <i>L. spp</i> gut survival</Txt>
      <Txt x={230} y={830} s={14}>Comparative <i>L. spp</i> gut survival</Txt>
      <Txt x={626} y={827} s={14}>Gain of <i>L. spp</i></Txt>
      <Txt x={217} y={1113} s={14}>Gain of <i>L. spp</i></Txt>
      <Txt x={624} y={1113} s={14}>Gain of <i>L. spp</i></Txt>

      {/* colour bar titles */}
      <Txt x={298} y={270.5} s={13.5} lh={14.5}>mOTU<br />abundance</Txt>
      <Txt x={717} y={270.5} s={13.5} lh={14.5}>MetaPhlAn<br />coverage</Txt>
      <Txt x={752} y={846.5} s={13.5} lh={13.3}>Specl<br />abundance</Txt>
      <Txt x={335} y={1132.5} s={13.5} lh={13.3}>mOTU<br />abundance</Txt>
      <Txt x={752} y={1132.5} s={13.5} lh={13.3}>MetaPhlAn<br />coverage</Txt>

      {/* key glyphs */}
      <KeyGlyph bx={297} by={448} bwid={12} bh={25} gap={2} mx={303} my={482} mw={13} mh={25} mark="x" mfs={13} label="loss" lx={323} ly={494} />
      <KeyGlyph bx={714} by={448} bwid={12} bh={25} gap={2} mx={721} my={482} mw={12} mh={25} mark="x" mfs={13} label="loss" lx={739} ly={494} />
      <KeyGlyph bx={733} by={1000} bwid={10} bh={23} gap={1} mx={728} my={1032} mw={12} mh={25} mark="+" mfs={11} label="gain" lx={747} ly={1044} />
      <KeyGlyph bx={314} by={1290} bwid={10} bh={21} gap={1} mx={310} my={1318} mw={12} mh={25} mark="+" mfs={11} label="gain" lx={327} ly={1330} />
      <KeyGlyph bx={734} by={1291} bwid={10} bh={20} gap={2} mx={731} my={1318} mw={12} mh={25} mark="+" mfs={11} label="gain" lx={748} ly={1330} />

      {/* d extras */}
      <Txt x={106.5} y={652} s={13.5} b r={-90} lh={15}><i>Lactobacillus</i> copies<br />per 4 ng DNA</Txt>
      {QPCR_SUBJECTS.map((s, i) => (
        <React.Fragment key={s}>
          <Txt x={287} y={583 + i * 15.3} s={i === 3 ? 11 : 10}>{QPCR_MARKER_GLYPHS[i]}</Txt>
          <Txt x={302} y={583 + i * 15.3} s={11.5} a="l">{s}</Txt>
        </React.Fragment>
      ))}
      <div style={{ position: "absolute", left: 147, top: 717, width: 65, height: 34, boxSizing: "border-box", border: "1px solid #777" }} />
      {QPCR_SPECIES.map((s, i) => (
        <Txt key={s} x={151} y={723.5 + i * 9.5} s={9.5} b it a="l" c={QPCR_SPECIES_COLORS[i]}>{s}</Txt>
      ))}
      <Txt x={282} y={674} s={10} a="l">detection limit</Txt>

      {/* e legend */}
      {[
        { c: BLUE, t: <>NSD-<i>Lactobacillus</i></> },
        { c: NAVY, t: <>NSD-others</> },
        { c: RED, t: <>high salt-<i>Lactobacillus</i></> },
        { c: DARKRED, t: <>high salt-others</> },
      ].map((it, i) => (
        <React.Fragment key={i}>
          <Frame x={627} y={586 + i * 13.1} w={8} h={8} bg={it.c} />
          <Txt x={641} y={590 + i * 13.1} s={12} a="l">{it.t}</Txt>
        </React.Fragment>
      ))}
      <Txt x={568} y={741} s={13}>mOTU</Txt>

      {/* f legend */}
      <Frame x={146} y={965} w={8} h={8} bg={RED} />
      <Txt x={157} y={969} s={10.5} a="l">high salt-<i>Lactobacillus</i></Txt>
      <Frame x={146} y={979} w={8} h={8} bg={DARKRED} />
      <Txt x={157} y={983} s={10.5} a="l">high salt-other</Txt>
      <Txt x={147} y={1001} s={11.5} a="l">p&lt;1.62e-8</Txt>
      <Txt x={177} y={1014} s={12}>mOTU</Txt>
    </div>
  );
}
